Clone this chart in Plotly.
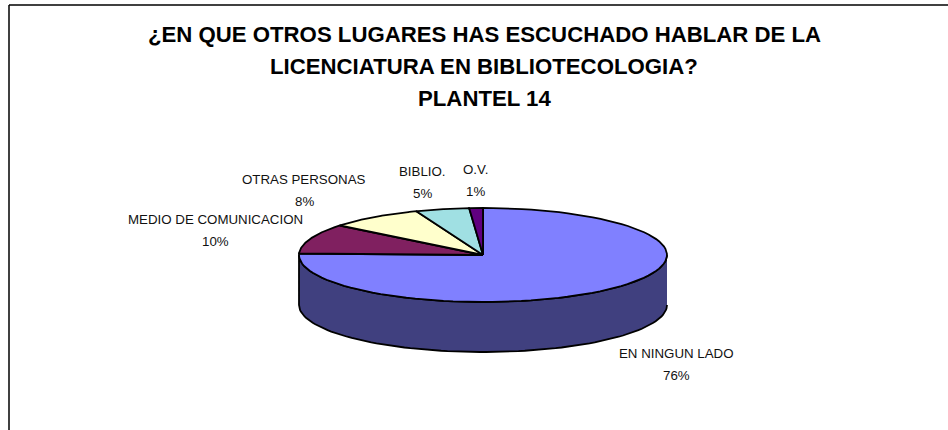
import numpy as np
import plotly.graph_objects as go

# slice shares, going clockwise from 12 o'clock
categories = ["EN NINGUN LADO", "MEDIO DE COMUNICACION", "OTRAS PERSONAS", "BIBLIO.", "O.V."]
shares = [75.5, 10.3, 8.3, 4.7, 1.2]
shown_percent = ["76%", "10%", "8%", "5%", "1%"]
slice_colors = ["#8080ff", "#802060", "#ffffcc", "#a0e0e3", "#600080"]
side_color = "#40407f"

title_lines = [
    "¿EN QUE OTROS LUGARES HAS ESCUCHADO HABLAR DE LA",
    "LICENCIATURA EN BIBLIOTECOLOGIA?",
    "PLANTEL 14",
]

W, H = 948, 430
CX, CY, RX, RY, DEPTH = 483, 255, 184, 47, 50


def rim(a0, a1, n=90):
    # clockwise angle from the top, in degrees, to points on the tilted rim
    t = np.deg2rad(np.linspace(a0, a1, n))
    return CX + RX * np.sin(t), CY - RY * np.cos(t)


fig = go.Figure()

# front wall of the pie, only the lower half of the rim can be seen
xs, ys = rim(90, 270)
fig.add_trace(
    go.Scatter(
        x=np.concatenate([xs, xs[::-1]]),
        y=np.concatenate([ys, ys[::-1] + DEPTH]),
        mode="lines",
        fill="toself",
        fillcolor=side_color,
        line=dict(color="black", width=1.8),
        hoverinfo="skip",
    )
)

ends = np.cumsum(shares) / np.sum(shares) * 360
starts = np.concatenate([[0], ends[:-1]])
for name, a0, a1, color in zip(categories, starts, ends, slice_colors):
    xs, ys = rim(a0, a1)
    fig.add_trace(
        go.Scatter(
            x=np.concatenate([[CX], xs, [CX]]),
            y=np.concatenate([[CY], ys, [CY]]),
            mode="lines",
            fill="toself",
            fillcolor=color,
            line=dict(color="black", width=1.8),
            name=name,
            hoverinfo="name",
        )
    )

# label lines are 22px apart, more than plotly's <br> gives, so each is its own annotation
label_x = [676, 215, 304, 422, 475]
label_y = [353, 219, 179, 171, 169]
LABEL_GAP = 22
label_font = dict(family="Liberation Sans", size=13.3, color="#111111")
for name, pct, x, y in zip(categories, shown_percent, label_x, label_y):
    fig.add_annotation(x=x, y=y, text=name, showarrow=False, font=label_font)
    fig.add_annotation(x=x, y=y + LABEL_GAP, text=pct, showarrow=False, font=label_font)

title_y = [34, 66, 98]
for line, y in zip(title_lines, title_y):
    fig.add_annotation(
        x=484,
        y=y,
        text=f"<b>{line}</b>",
        showarrow=False,
        font=dict(family="Liberation Sans", size=22.2, color="black"),
    )

# chart frame, cut off at the right and bottom of the image
fig.add_shape(type="line", x0=9, x1=W, y0=5, y1=5, line=dict(color="black", width=1.5))
fig.add_shape(type="line", x0=9, x1=9, y0=5, y1=H, line=dict(color="black", width=1.5))

fig.update_layout(
    width=W,
    height=H,
    margin=dict(l=0, r=0, t=0, b=0),
    paper_bgcolor="white",
    plot_bgcolor="white",
    showlegend=False,
    xaxis=dict(range=[0, W], visible=False, fixedrange=True),
    yaxis=dict(range=[H, 0], visible=False, fixedrange=True),
)

# drop the browser's default body margin so the axes line up with the page pixels
fig.write_html(
    "out.html",
    config=dict(displayModeBar=False),
    post_script="document.body.style.margin = '0'; document.body.style.overflow = 'hidden';",
)
